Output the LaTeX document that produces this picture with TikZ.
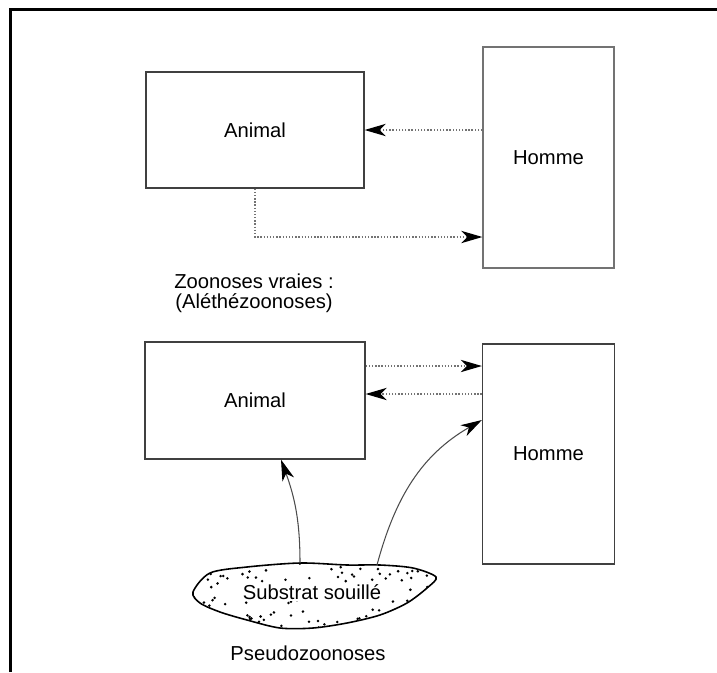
\documentclass[tikz,border=0pt]{standalone}
\usepackage{fontspec}
\setmainfont{Liberation Sans}
\usepackage{tikz}
\usetikzlibrary{positioning, arrows.meta}
\tikzstyle{box}=[draw=black!75, line width=0.7pt, font=\fontsize{11.5}{13}\selectfont]
\tikzstyle{lien}=[draw=black!55, densely dotted, line width=0.8pt]
\tikzstyle{courbe}=[draw=black!70, line width=0.6pt]
\tikzstyle{txt}=[font=\fontsize{11.5}{11.5}\selectfont, align=center]

\begin{document}
\begin{tikzpicture}[node distance=2.5cm,auto, > = {Stealth[length=12pt,width=7pt,inset=3.5pt,color=black]}]
                    \useasboundingbox (0,0) rectangle (14.34,-13.44);
                    % cadre
                    \draw[line width=1.7pt] (0.21,-13.44) -- (0.21,-0.19) -- (14.34,-0.19);
                    % zoonoses vraies
                    \node [box, minimum width=4.36cm, minimum height=2.32cm] (animalA) at (5.10,-2.60) {Animal};
                    \node [box, draw=black!55, minimum width=2.62cm, minimum height=4.42cm] (hommeA) at (10.97,-3.15) {Homme};
                    \draw[lien, ->] (animalA.east -| hommeA.west) -- (animalA.east);
                    \draw[lien, ->] (animalA.south) |- ([yshift=-1.59cm]hommeA.west);
                    \node [txt] (vraies) at (5.08,-5.87) {Zoonoses vraies :\\(Aléthézoonoses)};
                    % pseudozoonoses
                    \node [box, below of=animalA, node distance=5.41cm, minimum width=4.40cm, minimum height=2.34cm] (animalB) {Animal};
                    \node [box, below of=hommeA, node distance=5.93cm, minimum width=2.64cm, minimum height=4.40cm] (hommeB) {Homme};
                    \coordinate (p1) at ([yshift=0.69cm]animalB.east);
                    \coordinate (p2) at ([yshift=0.13cm]animalB.east);
                    \draw[lien, ->] (p1) -- (p1 -| hommeB.west);
                    \draw[lien, ->] (p2 -| hommeB.west) -- (p2);
                    % substrat
                    \begin{scope}
                    \clip plot[smooth cycle] coordinates {(3.86,-11.84) (4.20,-11.46) (4.94,-11.34) (6.00,-11.26) (6.94,-11.30) (7.60,-11.30) (8.26,-11.36) (8.72,-11.54) (8.54,-11.76) (8.14,-12.06) (7.60,-12.30) (6.94,-12.46) (6.26,-12.56) (5.60,-12.56) (4.94,-12.40) (4.40,-12.24) (4.00,-12.06)};
                    \pgfmathsetseed{12}
                    \foreach \i in {1,...,120} {\fill ({3.85+4.9*rnd},{-11.25-1.32*rnd}) circle (0.8pt);}
                    \end{scope}
                    \draw[line width=0.9pt] plot[smooth cycle] coordinates {(3.86,-11.84) (4.20,-11.46) (4.94,-11.34) (6.00,-11.26) (6.94,-11.30) (7.60,-11.30) (8.26,-11.36) (8.72,-11.54) (8.54,-11.76) (8.14,-12.06) (7.60,-12.30) (6.94,-12.46) (6.26,-12.56) (5.60,-12.56) (4.94,-12.40) (4.40,-12.24) (4.00,-12.06)};
                    \node [txt, fill=white, inner sep=1pt] (substrat) at (6.24,-11.84) {Substrat souillé};
                    \node [txt] (pseudo) at (6.16,-13.06) {Pseudozoonoses};
                    \coordinate (s1) at (6.00,-11.26);
                    \coordinate (s2) at (7.54,-11.30);
                    \draw[courbe, ->] (s1) to[out=90, in=-70] ([xshift=0.52cm]animalB.south);
                    \draw[courbe, ->] (s2) to[out=75, in=210] ([yshift=0.68cm]hommeB.west);
                \end{tikzpicture}
\end{document}
